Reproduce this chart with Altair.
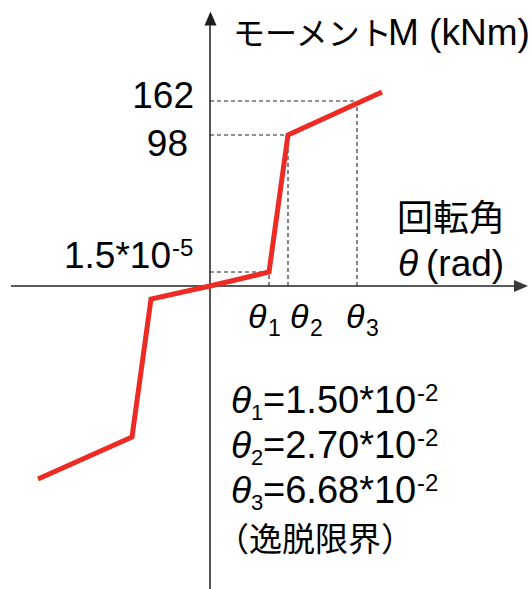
import altair as alt
import pandas as pd

# ---------------- data (schematic diagram units, origin = axes crossing) -------------
curve_theta = [-172, -78, -59, 0, 59, 78, 172]
curve_moment = [-193, -151, -13, 0, 14, 151, 194]

level_labels = ["1.5*10", "98", "162"]
level_sup = ["-5"]
level_m = [14, 151, 185]        # heights of the 1.5*10^-5, 98 and 162 levels
level_theta = [59, 78, 147]     # positions of θ1, θ2, θ3

theta_subs = ["1", "2", "3"]
theta_values = ["=1.50*10", "=2.70*10", "=6.68*10"]
theta_exp = ["-2", "-2", "-2"]
note_text = "（逸脱限界）"
y_title_jp = "モーメント"
y_title_unit = "M (kNm)"
x_title_jp = "回転角"
x_title_unit = "(rad)"
theta_sym = "θ"

# ---------------- layout helpers ----------------
OX, OY = 210, 286               # origin in page pixels
W, H = 532, 589
LAT = "Liberation Sans, Arial, sans-serif"
JP = "Noto Sans CJK JP, sans-serif"

def px(xp):
    return xp - OX

def py(yp):
    return OY - yp

X = lambda f="x": alt.X(f"{f}:Q", scale=alt.Scale(domain=[px(0), px(W)], nice=False, zero=False), axis=None)
Y = lambda f="y": alt.Y(f"{f}:Q", scale=alt.Scale(domain=[py(H), py(0)], nice=False, zero=False), axis=None)

def rules(df, color, width, dash=None):
    kw = dict(color=color, strokeWidth=width)
    if dash:
        kw["strokeDash"] = dash
    return alt.Chart(df).mark_rule(**kw).encode(
        x=X("x"), x2="x2:Q", y=Y("y"), y2="y2:Q")

def texts(df, size, font=LAT, align="left", style="normal"):
    return alt.Chart(df).mark_text(
        align=align, baseline="alphabetic", fontSize=size, font=font,
        fontStyle=style, color="#000000").encode(x=X("x"), y=Y("y"), text="t:N")

# ---------------- axes ----------------
x_axis = rules(pd.DataFrame({"x": [px(11)], "x2": [px(516)], "y": [0], "y2": [0]}), "#5a5a5a", 2)
y_axis = rules(pd.DataFrame({"x": [0], "x2": [0], "y": [py(589)], "y2": [py(22)]}), "#1e1e1e", 1.5)

arrow_right = alt.Chart(pd.DataFrame({"x": [px(521)], "y": [0]})).mark_point(
    shape="M-1,-0.86L1,0L-1,0.86Z", size=196, filled=True, opacity=1,
    color="#3a3a3a", strokeWidth=0).encode(x=X(), y=Y())
arrow_up = alt.Chart(pd.DataFrame({"x": [0.5], "y": [py(18.5)]})).mark_point(
    shape="M-0.86,1L0,-1L0.86,1Z", size=196, filled=True, opacity=1,
    color="#1e1e1e", strokeWidth=0).encode(x=X(), y=Y())

# ---------------- dashed guides ----------------
g_h = pd.DataFrame({"x": [0] * 3, "x2": level_theta, "y": level_m, "y2": level_m})
g_v = pd.DataFrame({"x": level_theta, "x2": level_theta, "y": [0] * 3, "y2": level_m})
guides = rules(pd.concat([g_h, g_v]), "#222222", 1.1, [4, 3])

# ---------------- curve ----------------
curve_df = pd.DataFrame({"x": curve_theta, "y": curve_moment, "i": range(len(curve_theta))})
curve = alt.Chart(curve_df).mark_line(color="#ee2a24", strokeWidth=5, strokeJoin="miter",
                                      strokeCap="butt").encode(
    x=X(), y=Y(), order="i:Q")

# ---------------- texts ----------------
FS = 37
lvl = texts(pd.DataFrame({"t": level_labels,
                          "x": [px(171), px(188), px(194)],
                          "y": [py(268), py(156), py(108)]}), FS, align="right")
lvl_sup = texts(pd.DataFrame({"t": level_sup, "x": [px(172)], "y": [py(256)]}), 24)

title_jp = texts(pd.DataFrame({"t": [y_title_jp], "x": [px(233)], "y": [py(45)]}), 32, font=JP)
title_un = texts(pd.DataFrame({"t": [y_title_unit], "x": [px(388)], "y": [py(45)]}), 37)
xt_jp = texts(pd.DataFrame({"t": [x_title_jp], "x": [px(397)], "y": [py(231)]}), 36, font=JP)
xt_th = texts(pd.DataFrame({"t": [theta_sym], "x": [px(398)], "y": [py(276)]}), FS, style="italic")
xt_un = texts(pd.DataFrame({"t": [x_title_unit], "x": [px(426)], "y": [py(276)]}), FS)

# θ tick labels under the axis
tick_x = [248, 290, 346]
tk_th = texts(pd.DataFrame({"t": [theta_sym] * 3, "x": [px(v) for v in tick_x],
                            "y": [py(328)] * 3}), 34, style="italic")
tk_sub = texts(pd.DataFrame({"t": theta_subs, "x": [px(v + 20) for v in tick_x],
                             "y": [py(336)] * 3}), 23)

# definitions block
base = [413, 458, 503]
df_th = texts(pd.DataFrame({"t": [theta_sym] * 3, "x": [px(231)] * 3,
                            "y": [py(b) for b in base]}), FS, style="italic")
df_sub = texts(pd.DataFrame({"t": theta_subs, "x": [px(251)] * 3,
                             "y": [py(b + 7) for b in base]}), 22)
df_val = texts(pd.DataFrame({"t": theta_values, "x": [px(263)] * 3,
                             "y": [py(b) for b in base]}), 38)
df_exp = texts(pd.DataFrame({"t": theta_exp, "x": [px(417)] * 3,
                             "y": [py(b - 12) for b in base]}), 24)
note = texts(pd.DataFrame({"t": [note_text], "x": [px(216)], "y": [py(551)]}), 33, font=JP)

chart = alt.layer(
    x_axis, y_axis, arrow_right, arrow_up, guides, curve,
    lvl, lvl_sup, title_jp, title_un, xt_jp, xt_th, xt_un, tk_th, tk_sub,
    df_th, df_sub, df_val, df_exp, note
).properties(
    width=W, height=H, padding=0,
    autosize=alt.AutoSizeParams(type="none")
).configure_view(stroke=None)

chart.save("out.html", embed_options={"renderer": "svg", "actions": False})
